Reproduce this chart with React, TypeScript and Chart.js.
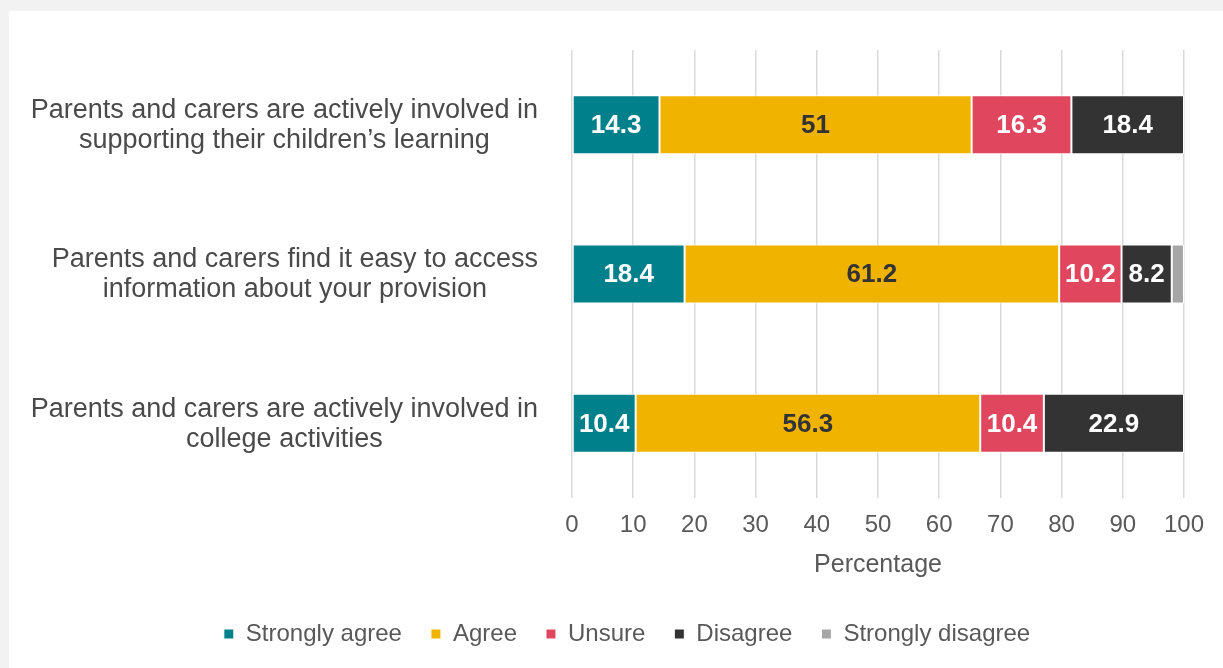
import React, { useEffect, useRef } from "react";
import { Chart, registerables } from "chart.js";

Chart.register(...registerables);

const categories: string[][] = [
  ["Parents and carers are actively involved in", "supporting their children\u2019s learning"],
  ["Parents and carers find it easy to access", "information about your provision"],
  ["Parents and carers are actively involved in", "college activities"],
];
const seriesNames = ["Strongly agree", "Agree", "Unsure", "Disagree", "Strongly disagree"];
const stronglyAgree = [14.3, 18.4, 10.4];
const agree = [51, 61.2, 56.3];
const unsure = [16.3, 10.2, 10.4];
const disagree = [18.4, 8.2, 22.9];
const stronglyDisagree = [0, 2.0, 0];
const seriesColors = ["#00808a", "#f0b400", "#e0475f", "#333333", "#a6a6a6"];
const labelColors = ["#ffffff", "#333333", "#ffffff", "#ffffff", "#ffffff"];
const xTicks = [0, 10, 20, 30, 40, 50, 60, 70, 80, 90, 100];
const axisTitle = "Percentage";

const FONT = "'Liberation Sans', Arial, sans-serif";

export default function App() {
  const ref = useRef<HTMLCanvasElement | null>(null);
  useEffect(() => {
    const canvas = ref.current;
    if (!canvas) return;
    const values = [stronglyAgree, agree, unsure, disagree, stronglyDisagree];

    const bgPlugin = {
      id: "bg",
      beforeDraw(chart: any) {
        const ctx = chart.ctx;
        ctx.save();
        ctx.fillStyle = "#f2f2f2";
        ctx.fillRect(0, 0, chart.width, chart.height);
        ctx.fillStyle = "#ffffff";
        ctx.fillRect(9, 11, chart.width - 9, chart.height - 11);
        ctx.restore();
      },
    };

    const yLabelPlugin = {
      id: "ylabels",
      afterDraw(chart: any) {
        const ctx = chart.ctx;
        const yScale = chart.scales.y;
        ctx.save();
        ctx.font = `27px ${FONT}`;
        ctx.fillStyle = "#4a4a4a";
        ctx.textAlign = "center";
        ctx.textBaseline = "middle";
        const rightEdge = chart.chartArea.left - 34;
        categories.forEach((lines, i) => {
          const cy = yScale.getPixelForValue(i);
          const maxW = Math.max(...lines.map((l) => ctx.measureText(l).width));
          const cx = rightEdge - maxW / 2;
          const lh = 30;
          lines.forEach((l, j) => {
            ctx.fillText(l, cx, cy + 1 + (j - (lines.length - 1) / 2) * lh);
          });
        });
        ctx.restore();
      },
    };

    const dataLabelPlugin = {
      id: "dlabels",
      afterDatasetsDraw(chart: any) {
        const ctx = chart.ctx;
        ctx.save();
        ctx.font = `bold 26px ${FONT}`;
        ctx.textAlign = "center";
        ctx.textBaseline = "middle";
        chart.data.datasets.forEach((ds: any, i: number) => {
          const meta = chart.getDatasetMeta(i);
          meta.data.forEach((el: any, j: number) => {
            const v = ds.data[j];
            if (v < 5) return;
            const p = el.getProps(["x", "y", "base"], true);
            ctx.fillStyle = labelColors[i];
            ctx.fillText(String(v), (p.x + p.base) / 2, p.y + 1);
          });
        });
        ctx.restore();
      },
    };

    const chart = new Chart(canvas, {
      type: "bar",
      data: {
        labels: categories.map((c) => c.join(" ")),
        datasets: seriesNames.map((name, i) => ({
          label: name,
          data: values[i],
          backgroundColor: seriesColors[i],
          borderColor: "#ffffff",
          borderWidth: 1,
          borderSkipped: false,
          categoryPercentage: 1,
          barPercentage: 0.395,
        })),
      },
      options: {
        indexAxis: "y",
        animation: false,
        responsive: false,
        maintainAspectRatio: false,
        layout: { padding: { left: 70, right: 39, top: 50, bottom: 12 } },
        scales: {
          x: {
            stacked: true,
            min: 0,
            max: 100,
            afterBuildTicks(scale: any) {
              scale.ticks = xTicks.map((v) => ({ value: v }));
            },
            afterFit(scale: any) {
              scale.height = 95;
            },
            grid: { color: "#d9d9d9", lineWidth: 1.5, drawTicks: false },
            border: { display: false },
            ticks: {
              color: "#595959",
              font: { family: FONT, size: 24 },
              padding: 13,
            },
            title: {
              display: true,
              text: axisTitle,
              color: "#595959",
              font: { family: FONT, size: 25 },
              padding: { top: 0, bottom: 13 },
            },
          },
          y: {
            stacked: true,
            afterFit(scale: any) {
              scale.width = 502;
            },
            grid: { display: false },
            border: { display: false },
            ticks: { display: false },
          },
        },
        plugins: {
          legend: {
            position: "bottom",
            labels: {
              boxWidth: 10,
              boxHeight: 10,
              padding: 29,
              color: "#595959",
              font: { family: FONT, size: 24 },
            },
          },
          tooltip: { enabled: false },
        },
      },
      plugins: [bgPlugin, yLabelPlugin, dataLabelPlugin],
    } as any);
    return () => chart.destroy();
  }, []);

  return (
    <div style={{ position: "fixed", left: 0, top: 0, width: 1223, height: 668 }}>
      <canvas ref={ref} width={1223} height={668} style={{ width: 1223, height: 668, display: "block" }} />
    </div>
  );
}
